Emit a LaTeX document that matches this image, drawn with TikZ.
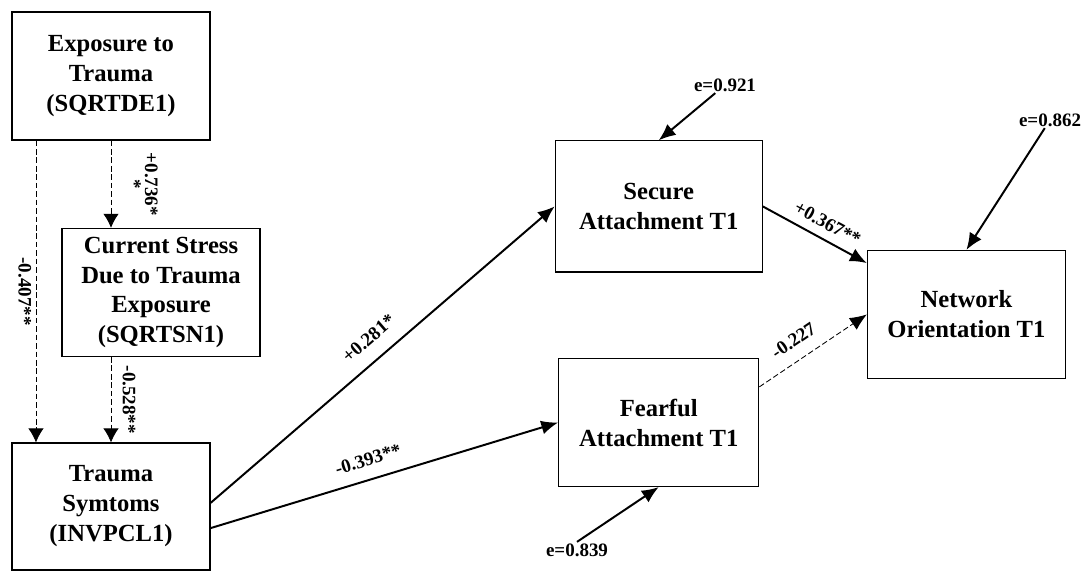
\documentclass[tikz,border=0pt]{standalone}
\usepackage{fontspec}
\setmainfont{Liberation Serif}
\usetikzlibrary{positioning,arrows.meta}

\begin{document}
\begin{tikzpicture}[x=0.025cm, y=-0.025cm, node distance=1cm and 1cm, on grid,
box/.style={draw, line width=0.8pt, inner sep=2pt, minimum width=4.95cm, minimum height=3.2cm, align=center, font=\fontsize{17.5}{21.3}\selectfont\bfseries},
effect/.style={-{Latex[length=12pt,width=10pt]}, line width=1.4pt},
weakeffect/.style={-{Latex[length=10pt,width=11pt]}, line width=0.6pt, dash pattern=on 4pt off 2pt},
coef/.style={font=\fontsize{13.5}{12}\selectfont\bfseries, inner sep=2pt},
err/.style={font=\fontsize{13.5}{14}\selectfont\bfseries, inner sep=1pt}]
\useasboundingbox (0,0) rectangle (1087,571);

\node[box] (Exposure) at (111,76) {Exposure to\\Trauma\\(SQRTDE1)};
\node[box] (Stress) [below right=5.41cm and 1.25cm of Exposure] {Current Stress\\Due to Trauma\\Exposure\\(SQRTSN1)};
\node[box, minimum height=3.175cm] (Symptoms) [below=10.76cm of Exposure] {Trauma\\Symtoms\\(INVPCL1)};
\node[box, minimum width=5.175cm, minimum height=3.275cm] (Secure) [below right=3.26cm and 13.69cm of Exposure] {Secure\\Attachment T1};
\node[box, minimum width=5cm] (Fearful) [below=5.4cm of Secure] {Fearful\\Attachment T1};
\node[box] (Network) [below right=2.7cm and 7.69cm of Secure] {Network\\Orientation T1};

% error terms
\node[err] (ErrSecure) at (725,85) {e=0.921};
\node[err] (ErrNetwork) at (1050,120) {e=0.862};
\node[err] (ErrFearful) at (577,550) {e=0.839};

% trauma paths
\draw[weakeffect] (Exposure.south) -- node[coef, sloped, above=10pt, align=center] {+0.736*\\*} (Exposure.south |- Stress.north);
\draw[weakeffect] ([xshift=-1.875cm]Exposure.south) -- node[coef, sloped, below=1pt] {-0.407**} ([xshift=-1.875cm]Exposure.south |- Symptoms.north);
\draw[weakeffect] (Stress.south -| Exposure.south) -- node[coef, sloped, above=6pt] {-0.528**} (Symptoms.north);

% attachment paths
\draw[effect] ([yshift=0.09cm]Symptoms.east) -- node[coef, sloped, above=8pt, pos=0.5] {+0.281*} (Secure.west);
\draw[effect] ([yshift=-0.54cm]Symptoms.east) -- node[coef, sloped, above=7pt, pos=0.47] {-0.393**} (Fearful.west);
\draw[effect] (Secure.east) -- node[coef, sloped, above=4pt, pos=0.55] {+0.367**} ([yshift=-0.33cm]Network.north west);
\draw[weakeffect, -{Latex[length=12pt,width=10pt]}] ([yshift=0.89cm]Fearful.east) -- node[coef, sloped, above=7pt, pos=0.42] {-0.227} (Network.west);

\draw[effect] (ErrSecure) -- (Secure.north);
\draw[effect] (ErrNetwork) -- (Network.north);
\draw[effect] (ErrFearful.north) -- (Fearful.south);
\end{tikzpicture}
\end{document}
